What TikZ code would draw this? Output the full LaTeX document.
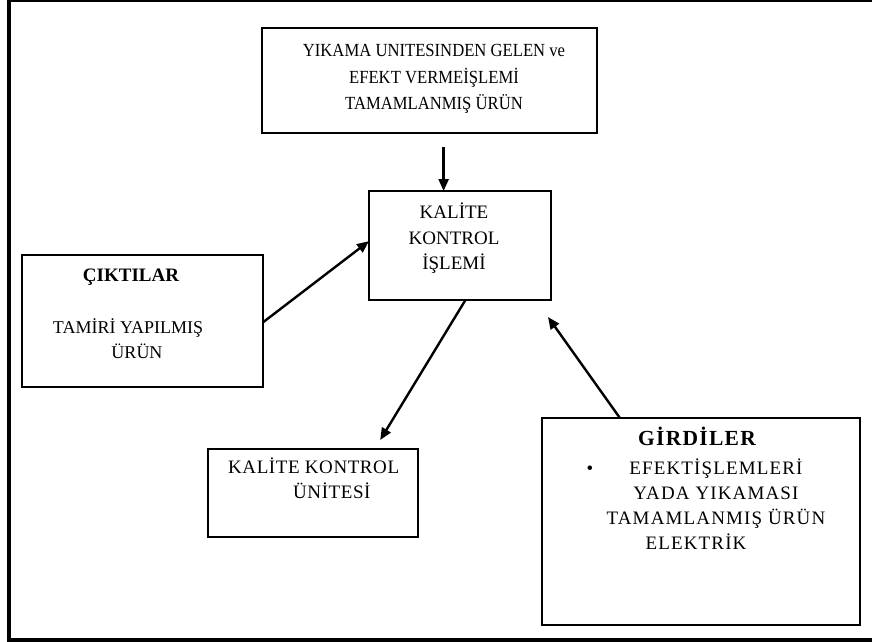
\documentclass[tikz,border=0pt]{standalone}
\usepackage{fontspec}
\setmainfont{Liberation Serif}
\newfontfamily\condserif[FakeStretch=0.9]{Liberation Serif}
\newfontfamily\widefont[LetterSpace=3]{Liberation Serif}
\newfontfamily\widerfont[LetterSpace=6]{Liberation Serif}
\usetikzlibrary{calc,arrows.meta}
\newcommand{\fl}{\rule{0pt}{17pt}}
\begin{document}
\begin{tikzpicture}[x=1pt,y=-1pt,
  box/.style={draw,line width=1.5pt,anchor=north west,inner sep=0pt,outer sep=0pt},
  txt/.style={inner sep=0pt,align=center,anchor=north,font=\fontsize{19}{25.5}\selectfont},
  conn/.style={line width=2.4pt,-{Triangle[length=12pt,width=10pt]}}]
\clip (0,0) rectangle (872,641);
\fill[white] (0,0) rectangle (872,641);
\draw[line width=4pt] (890,0) -- (9,0) -- (9,640) -- (890,640);
% boxes
\node[box,minimum width=335pt,minimum height=105pt] (tbox) at (262,28) {};
\node[box,minimum width=182pt,minimum height=109pt] (cbox) at (369,191) {};
\node[box,minimum width=241pt,minimum height=132pt] (lbox) at (22,255) {};
\node[box,minimum width=210pt,minimum height=88pt] (bbox) at (208,449) {};
\node[box,minimum width=318pt,minimum height=207pt] (gbox) at (542,418) {};
% texts
\node[txt,font=\fontsize{18.5}{26.5}\condserif] (ttxt) at (434,39.3) {\fl YIKAMA UNITESINDEN GELEN ve\\EFEKT VERMEİŞLEMİ\\TAMAMLANMIŞ ÜRÜN};
\node[txt] (ctxt) at (454,201.3) {\fl KALİTE\\KONTROL\\İŞLEMİ};
\node[txt,font=\fontsize{19}{25.5}\selectfont\bfseries] (ltitle) at (131,264.3) {\fl ÇIKTILAR};
\node[txt,font=\fontsize{18}{25}\selectfont] (ltxt) at (128,316.3) {\fl TAMİRİ YAPILMIŞ\\\hspace*{18pt}ÜRÜN};
\node[txt,anchor=north west,align=left,font=\fontsize{19}{25}\widefont] (btxt) at (228,456.3) {\fl KALİTE KONTROL\\\hspace*{65pt}ÜNİTESİ};
\node[txt,font=\fontsize{21.5}{25.5}\widerfont\bfseries] (gtitle) at (697,426.5) {\fl GİRDİLER};
\node[txt,font=\fontsize{19}{25}\widerfont] (gtxt) at (716,457.3) {\fl EFEKTİŞLEMLERİ\\YADA YIKAMASI\\TAMAMLANMIŞ ÜRÜN\\ELEKTRİK\hspace*{40pt}};
\node[inner sep=0pt,font=\fontsize{19}{25}\selectfont] (bullet) at (590,470) {•};
% connectors
\coordinate (ta) at ($(cbox.north west)!0.41!(cbox.north east)$);
\draw[conn] ($(ta |- tbox.south)+(0,14)$) -- (ta);
\draw[conn] ($(lbox.north east)!0.51!(lbox.south east)$) -- ($(cbox.north west)!0.46!(cbox.south west)$);
\coordinate (bend) at ($(bbox.north west)!0.82!(bbox.north east)+(0,-9)$);
\draw[conn] ($(cbox.south west)!0.53!(cbox.south east)$) -- (bend);
\coordinate (gend) at ($(cbox.south east)+(-3,17)$);
\draw[conn] ($(gbox.north west)!0.245!(gbox.north east)$) -- (gend);
\end{tikzpicture}
\end{document}
